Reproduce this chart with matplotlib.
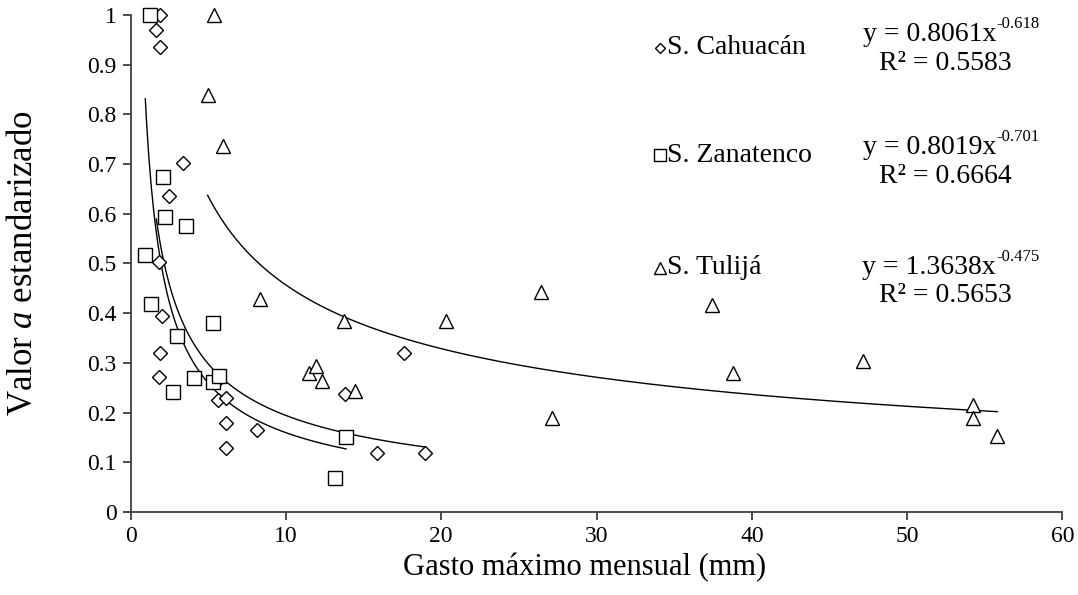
import numpy as np
import matplotlib
matplotlib.use("Agg")
import matplotlib.pyplot as plt
from matplotlib.ticker import FixedLocator, FuncFormatter

plt.rcParams['font.family'] = ['Liberation Serif', 'DejaVu Serif']
plt.rcParams['mathtext.fontset'] = 'custom'
plt.rcParams['mathtext.rm'] = 'Liberation Serif'
plt.rcParams['mathtext.it'] = 'Liberation Serif:italic'

# S. Cahuacán
cah_x = [1.87, 1.66, 1.87, 3.35, 2.45, 1.85, 2.04, 1.91, 1.83, 5.71, 5.61, 6.14,
         6.12, 6.14, 8.12, 13.83, 17.6, 15.85, 18.98]
cah_y = [1.0, 0.97, 0.936, 0.703, 0.636, 0.504, 0.394, 0.319, 0.271, 0.267, 0.225,
         0.229, 0.180, 0.128, 0.165, 0.237, 0.319, 0.119, 0.119]

# S. Zanatenco
zan_x = [1.27, 2.07, 2.21, 3.59, 0.95, 1.33, 5.31, 2.99, 4.08, 2.73, 5.29, 5.71,
         13.87, 13.18]
zan_y = [1.0, 0.675, 0.593, 0.576, 0.518, 0.418, 0.381, 0.354, 0.270, 0.241, 0.261,
         0.274, 0.150, 0.069]

# S. Tulijá
tul_x = [5.39, 4.96, 5.96, 8.33, 13.76, 20.31, 11.51, 11.94, 12.35, 14.47, 26.43,
         27.13, 37.46, 38.77, 47.18, 54.26, 54.26, 55.8]
tul_y = [1.0, 0.839, 0.737, 0.429, 0.384, 0.384, 0.279, 0.294, 0.264, 0.243, 0.443,
         0.19, 0.4165, 0.279, 0.304, 0.215, 0.19, 0.153]

# Power-law trend coefficients (y = a * x^b) and R²
cah_fit = (0.8061, -0.618, 0.5583)
zan_fit = (0.8019, -0.701, 0.6664)
tul_fit = (1.3638, -0.475, 0.5653)

x_ticks = [0, 10, 20, 30, 40, 50, 60]
y_ticks = [0, 0.1, 0.2, 0.3, 0.4, 0.5, 0.6, 0.7, 0.8, 0.9, 1.0]

fig = plt.figure(figsize=(10.78, 5.95), dpi=100)
ax = fig.add_axes([0.1211, 0.1395, 0.8645, 0.8353])

axis_col = '#404040'
mk = dict(linestyle='none', markerfacecolor='white', markeredgecolor='black',
          markeredgewidth=1.0, clip_on=False, zorder=3)

series = [
    ('S. Cahuacán', cah_x, cah_y, cah_fit, 'D', 7.0, 5.1),
    ('S. Zanatenco', zan_x, zan_y, zan_fit, 's', 9.6, 8.5),
    ('S. Tulijá', tul_x, tul_y, tul_fit, '^', 10.0, 8.5),
]

for name, xs, ys, (a, b, r2), m, ms, _ in series:
    ax.plot(xs, ys, marker=m, markersize=ms, **mk)
    xx = np.linspace(min(xs), max(xs), 300)
    ax.plot(xx, a * xx ** b, color='black', lw=1.0, zorder=2)

ax.set_xlim(0, 60)
ax.set_ylim(0, 1)
ax.xaxis.set_major_locator(FixedLocator(x_ticks))
ax.yaxis.set_major_locator(FixedLocator(y_ticks))
ax.yaxis.set_major_formatter(FuncFormatter(lambda v, p: f"{v:g}"))
ax.xaxis.set_major_formatter(FuncFormatter(lambda v, p: f"{v:g}"))

for s in ['top', 'right']:
    ax.spines[s].set_visible(False)
for s in ['left', 'bottom']:
    ax.spines[s].set_color(axis_col)
    ax.spines[s].set_linewidth(1.3)
ax.tick_params(axis='both', direction='out', length=6, width=1.3, color=axis_col,
               labelsize=17, pad=4)

ax.set_xlabel('Gasto máximo mensual (mm)', fontsize=22)
ax.xaxis.set_label_coords(0.487, -0.083)
ax.set_ylabel('Valor $a$ estandarizado', fontsize=25)
ax.yaxis.set_label_coords(-0.097, 0.5)

# Legend entries with trend equations
leg_rows = [(0.934, 0.96, 0.903), (0.718, 0.734, 0.676), (0.491, 0.491, 0.435)]
for (name, xs, ys, (a, b, r2), m, ms, lms), (y_name, y_eq, y_r2) in zip(series, leg_rows):
    ax.plot([0.568], [y_name], transform=ax.transAxes, marker=m,
            markersize=lms, **mk)
    ax.text(0.576, y_name, name, transform=ax.transAxes, fontsize=20,
            ha='left', va='center')
    eq = ax.text(0.857, y_eq, f'y = {a:.4f}x', transform=ax.transAxes,
                 fontsize=20, ha='center', va='center')
    ax.annotate(f'{b:.3f}', xy=(1.0, 0.6), xycoords=eq,
                fontsize=12, ha='left', va='bottom')
    ax.text(0.874, y_r2, f'R² = {r2:.4f}', transform=ax.transAxes,
            fontsize=20, ha='center', va='center')

fig.savefig('out.png', dpi=100)
